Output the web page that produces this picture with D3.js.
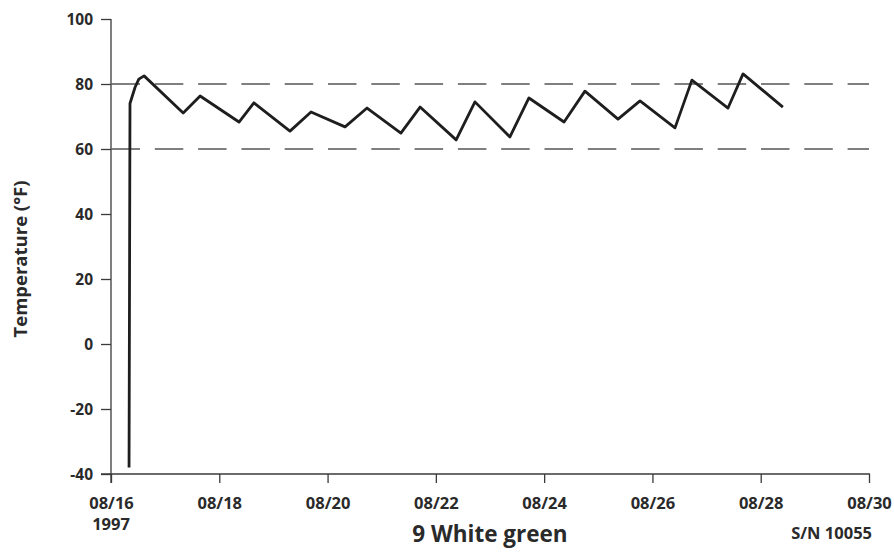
<!DOCTYPE html>
<html><head><meta charset="utf-8">
<script src="https://cdn.jsdelivr.net/npm/d3@7"></script>
<style>
body{margin:0;background:#fff;}
text{font-family:"Open Sans",sans-serif;font-weight:700;fill:#2a2a2a;}
</style></head>
<body><svg id="c" width="894" height="552"></svg>
<script>
// Data: logger readings (time, °F)
const times = ["1997-08-16T08:00","1997-08-16T08:25","1997-08-16T10:40","1997-08-16T12:20","1997-08-16T14:40",
  "1997-08-17T08:00","1997-08-17T15:30","1997-08-18T08:45","1997-08-18T15:20","1997-08-19T07:20","1997-08-19T16:40",
  "1997-08-20T07:45","1997-08-20T17:30","1997-08-21T08:30","1997-08-21T17:00","1997-08-22T09:00","1997-08-22T17:20",
  "1997-08-23T08:50","1997-08-23T17:15","1997-08-24T08:50","1997-08-24T18:05","1997-08-25T08:45","1997-08-25T18:30",
  "1997-08-26T10:00","1997-08-26T17:30","1997-08-27T09:30","1997-08-27T16:10","1997-08-28T09:50"];
const temps = [-38,74,79,81.5,82.5,
  71.1,76.3,68.3,74.2,65.5,71.4,
  66.8,72.6,64.9,72.9,62.8,74.5,
  63.7,75.7,68.3,77.8,69.2,74.8,
  66.5,81.2,72.6,83.1,72.9];
const xTickDates = ["1997-08-16","1997-08-18","1997-08-20","1997-08-22","1997-08-24","1997-08-26","1997-08-28","1997-08-30"];
const xTickLabels = ["08/16","08/18","08/20","08/22","08/24","08/26","08/28","08/30"];
const yTicks = [-40,-20,0,20,40,60,80,100];
const limits = [60,80];
const yTitle = "Temperature (°F)";
const title = "9 White green";
const serial = "S/N 10055";
const yearLabel = "1997";

const parse = d3.isoParse;
const data = times.map((t,i)=>({t:parse(t), v:temps[i]}));
const svg = d3.select("#c");
const x = d3.scaleTime().domain([parse("1997-08-16T00:00"), parse("1997-08-30T00:00")]).range([111, 869]);
const y = d3.scaleLinear().domain([-40,100]).range([474, 19]);
const axisColor = "#3a3a3a";

// limit lines
svg.selectAll("line.lim").data(limits).enter().append("line")
  .attr("x1", x.range()[0]+0.5).attr("x2", x.range()[1])
  .attr("y1", d=>y(d)).attr("y2", d=>y(d))
  .attr("stroke","#555").attr("stroke-width",1.6).attr("stroke-dasharray","28.5,14.8");

// y axis
const yAxis = d3.axisLeft(y).tickValues(yTicks).tickSize(10).tickPadding(8).tickFormat(d=>String(d));
const gy = svg.append("g").attr("transform","translate(111,0)").call(yAxis);
gy.select(".domain").remove();
gy.selectAll(".tick line").attr("stroke",axisColor).attr("stroke-width",1.3);
gy.selectAll(".tick text").attr("font-size",15.5).attr("font-family","Open Sans").attr("font-weight",700).attr("fill","#2a2a2a").attr("dy","0.36em");
svg.append("line").attr("x1",111).attr("x2",111).attr("y1",y(100)).attr("y2",483).attr("stroke",axisColor).attr("stroke-width",1.3);

// x axis
const xAxis = d3.axisBottom(x).tickValues(xTickDates.map(d=>parse(d+"T00:00"))).tickSize(9).tickPadding(14)
  .tickFormat((d,i)=>xTickLabels[i]);
const gx = svg.append("g").attr("transform","translate(0,474)").call(xAxis);
gx.select(".domain").remove();
gx.selectAll(".tick line").attr("stroke",axisColor).attr("stroke-width",1.3);
gx.selectAll(".tick text").attr("font-size",16.5).attr("font-family","Open Sans").attr("font-weight",700).attr("fill","#2a2a2a");
svg.append("line").attr("x1",101).attr("x2",870).attr("y1",474).attr("y2",474).attr("stroke",axisColor).attr("stroke-width",1.3);
svg.append("text").attr("x",x(parse("1997-08-16T00:00"))).attr("y",530).attr("text-anchor","middle").attr("font-size",16.5).text(yearLabel);

// data line
const line = d3.line().x(d=>x(d.t)).y(d=>y(d.v)).curve(d3.curveLinear);
svg.append("path").datum(data).attr("d",line).attr("fill","none").attr("stroke","#1e1e1e")
  .attr("stroke-width",2.8).attr("stroke-linejoin","round").attr("stroke-linecap","butt");

// titles
svg.append("text").attr("transform","translate(27,259) rotate(-90)").attr("text-anchor","middle").attr("font-size",18.5).text(yTitle);
svg.append("text").attr("x",490).attr("y",542).attr("text-anchor","middle").attr("font-size",22.5).text(title);
svg.append("text").attr("x",872).attr("y",539).attr("text-anchor","end").attr("font-size",16.5).text(serial);
</script></body></html>
